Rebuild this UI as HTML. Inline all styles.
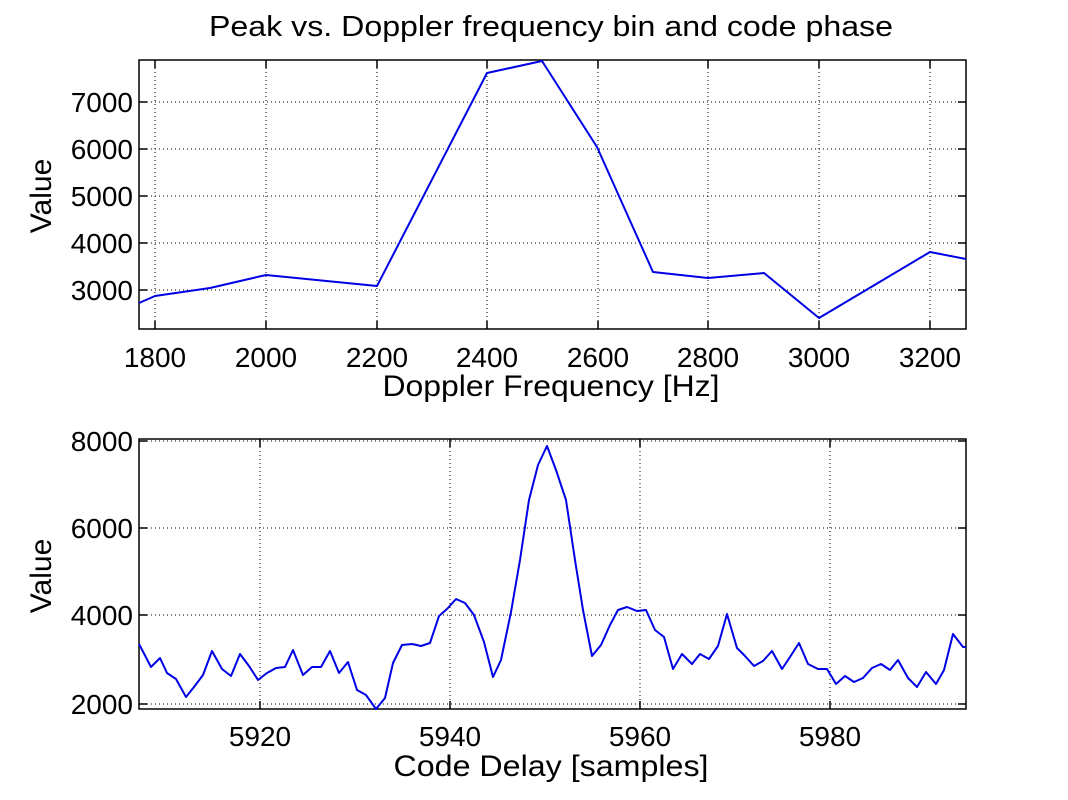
<!DOCTYPE html>
<html><head><meta charset="utf-8"><style>html,body{margin:0;padding:0;background:#fff}svg{display:block}text{font-family:"Liberation Sans",sans-serif;fill:#000}</style></head><body>
<svg width="1068" height="800" viewBox="0 0 1068 800">
<rect width="1068" height="800" fill="#fff"/>
<g stroke="#000" stroke-width="1" stroke-dasharray="1,3">
<line x1="155" y1="60" x2="155" y2="329"/><line x1="266" y1="60" x2="266" y2="329"/><line x1="377" y1="60" x2="377" y2="329"/><line x1="487" y1="60" x2="487" y2="329"/><line x1="598" y1="60" x2="598" y2="329"/><line x1="708" y1="60" x2="708" y2="329"/><line x1="819" y1="60" x2="819" y2="329"/><line x1="930" y1="60" x2="930" y2="329"/>
<line x1="139" y1="102" x2="966" y2="102"/><line x1="139" y1="149" x2="966" y2="149"/><line x1="139" y1="196" x2="966" y2="196"/><line x1="139" y1="243" x2="966" y2="243"/><line x1="139" y1="290" x2="966" y2="290"/>
<line x1="260" y1="439" x2="260" y2="709"/><line x1="450" y1="439" x2="450" y2="709"/><line x1="640" y1="439" x2="640" y2="709"/><line x1="830" y1="439" x2="830" y2="709"/>
<line x1="139" y1="441" x2="966" y2="441"/><line x1="139" y1="528" x2="966" y2="528"/><line x1="139" y1="615" x2="966" y2="615"/><line x1="139" y1="704" x2="966" y2="704"/>
</g>
<g stroke="#000" stroke-width="1.5" fill="none">
<rect x="139" y="60" width="827" height="269"/>
<rect x="139" y="439" width="827" height="270"/>
</g>
<g stroke="#000" stroke-width="1.5">
<path d="M155 329v-8M266 329v-8M377 329v-8M487 329v-8M598 329v-8M708 329v-8M819 329v-8M930 329v-8M155 60v8M266 60v8M377 60v8M487 60v8M598 60v8M708 60v8M819 60v8M930 60v8"/>
<path d="M139 102h8M139 149h8M139 196h8M139 243h8M139 290h8M966 102h-8M966 149h-8M966 196h-8M966 243h-8M966 290h-8"/>
<path d="M260 709v-8M450 709v-8M640 709v-8M830 709v-8M260 439v8M450 439v8M640 439v8M830 439v8"/>
<path d="M139 441h8M139 528h8M139 615h8M139 704h8M966 441h-8M966 528h-8M966 615h-8M966 704h-8"/>
</g>
<polyline fill="none" stroke="#0000e6" stroke-width="2" stroke-linejoin="round" points="139,303 155,296 210,288 266,275 377,286 487,73 542,61 597,147 653,272 708,278 764,273 819,318 930,252 966,259"/>
<polyline fill="none" stroke="#0000e6" stroke-width="2" stroke-linejoin="round" points="139,644 151,667 160,658 167,673 176,679 186,697 194,687 203,675 212,651 222,669 231,676 240,654 249,666 258,680 267,673 276,668 285,667 293,650 303,675 312,667 321,667 330,651 339,673 348,662 357,690 366,695 376,709 385,698 393,663 402,645 412,644 421,646 430,643 439,616 447,609 456,599 465,603 474,615 484,642 493,677 501,660 511,612 520,560 529,500 538,465 547,446 556,470 566,500 575,560 583,610 592,656 601,645 610,625 618,610 627,607 637,611 646,610 655,630 664,637 673,669 682,654 692,664 700,654 709,659 718,646 727,614 737,648 745,656 754,666 763,661 772,651 782,669 790,657 799,643 808,664 818,669 827,669 836,684 845,676 854,682 863,678 872,668 881,664 890,670 898,660 908,678 917,687 926,672 936,684 944,670 953,634 963,647 966,647"/>
<text x="551" y="36" font-size="29" text-anchor="middle" textLength="684" lengthAdjust="spacingAndGlyphs">Peak vs. Doppler frequency bin and code phase</text>
<g font-size="28" text-anchor="end">
<text x="133" y="112">7000</text><text x="133" y="159">6000</text><text x="133" y="206">5000</text><text x="133" y="253">4000</text><text x="133" y="300">3000</text>
<text x="133" y="451">8000</text><text x="133" y="538">6000</text><text x="133" y="625">4000</text><text x="133" y="714">2000</text>
</g>
<g font-size="28" text-anchor="middle">
<text x="155" y="367">1800</text><text x="266" y="367">2000</text><text x="377" y="367">2200</text><text x="487" y="367">2400</text><text x="598" y="367">2600</text><text x="708" y="367">2800</text><text x="819" y="367">3000</text><text x="930" y="367">3200</text>
<text x="260" y="746">5920</text><text x="450" y="746">5940</text><text x="640" y="746">5960</text><text x="830" y="746">5980</text>
<text x="551" y="396" font-size="30" textLength="337" lengthAdjust="spacingAndGlyphs">Doppler Frequency [Hz]</text>
<text x="551" y="776" font-size="30" textLength="315" lengthAdjust="spacingAndGlyphs">Code Delay [samples]</text>
<text transform="translate(51,196) rotate(-90)" font-size="30">Value</text>
<text transform="translate(51,576) rotate(-90)" font-size="30">Value</text>
</g>
</svg>
</body></html>
